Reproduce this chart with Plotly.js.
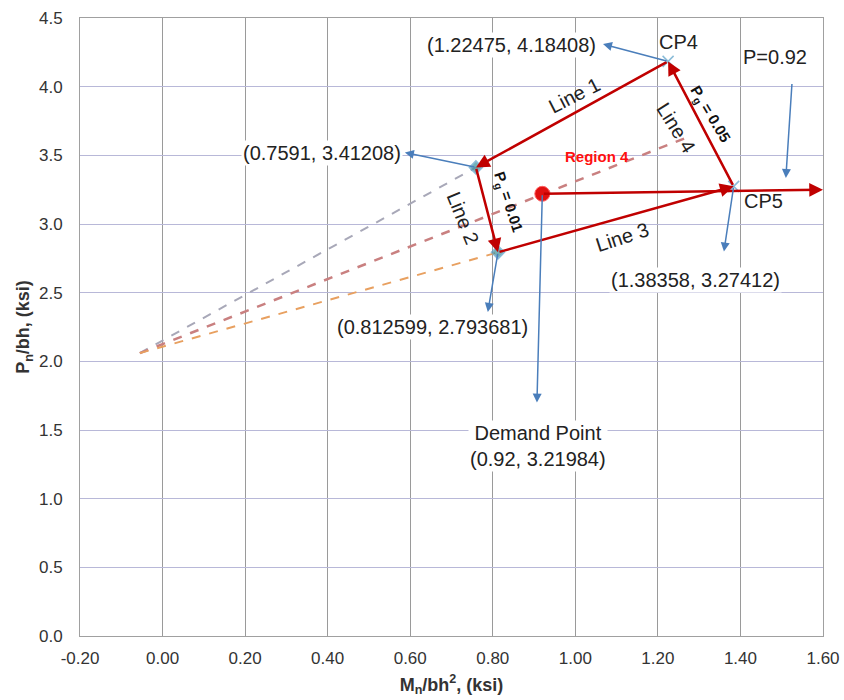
<!DOCTYPE html>
<html>
<head>
<meta charset="utf-8">
<script src="https://cdn.plot.ly/plotly-3.0.1.min.js"></script>
<style>html,body{margin:0;padding:0;background:#fff;}#chart{width:844px;height:700px;}</style>
</head>
<body>
<div id="chart"></div>
<script>
// ---- data ----
const vertexNames = ['CP4', 'V1', 'V2', 'CP5'];
const vertexX = [1.22475, 0.7591, 0.812599, 1.38358];
const vertexY = [4.18408, 3.41208, 2.793681, 3.27412];
const demandX = 0.92;
const demandY = 3.21984;
const focusX = -0.055;
const focusY = 2.06;
// boundary lines (from -> to vertex index)
const lineNames = ['Line 1', 'Line 2', 'Line 3', 'Line 4'];
const lineFrom = [0, 1, 2, 3];
const lineTo = [1, 2, 3, 0];
// demand load ray end
const rayEndX = 1.60;
const rayEndY = 3.25;
// dashed radial line through demand point ends
const demandRayEndX = 1.27;
const demandRayEndY = 3.63;
const xTicks = [-0.2, 0, 0.2, 0.4, 0.6, 0.8, 1.0, 1.2, 1.4, 1.6];
const xTickLabels = ['-0.20', '0.00', '0.20', '0.40', '0.60', '0.80', '1.00', '1.20', '1.40', '1.60'];
const yTicks = [0, 0.5, 1.0, 1.5, 2.0, 2.5, 3.0, 3.5, 4.0, 4.5];
const yTickLabels = ['0.0', '0.5', '1.0', '1.5', '2.0', '2.5', '3.0', '3.5', '4.0', '4.5'];

const FONT = 'Liberation Sans, Arial, sans-serif';
const RED = '#c00000';
const BLUE = '#4a7ebb';
const LS = 20;

const traces = [
  { x: [focusX, vertexX[1]], y: [focusY, vertexY[1]], mode: 'lines',
    line: { color: '#a8a8b8', width: 2, dash: 'dash' }, hoverinfo: 'skip' },
  { x: [focusX, demandRayEndX], y: [focusY, demandRayEndY], mode: 'lines',
    line: { color: '#c98080', width: 2.5, dash: 'dash' }, hoverinfo: 'skip' },
  { x: [focusX, vertexX[2]], y: [focusY, vertexY[2]], mode: 'lines',
    line: { color: '#e8a060', width: 2, dash: 'dash' }, hoverinfo: 'skip' },
  { x: vertexX, y: vertexY, mode: 'markers',
    marker: { symbol: ['x-thin', 'diamond', 'diamond', 'x-thin'], size: [11, 10, 10, 11],
      color: ['#5aa0c8', '#3a8f9a', '#3a8f9a', '#5aa0c8'],
      line: { color: '#5aa0c8', width: 1.5 } }, hoverinfo: 'skip' },
  { x: [demandX], y: [demandY], mode: 'markers',
    marker: { symbol: 'circle', size: 15, color: '#e01010', line: { color: '#ff6060', width: 1 } },
    hoverinfo: 'skip' }
];

const ann = [];
function arrow(x, y, ax, ay, color, width, size) {
  ann.push({ x: x, y: y, ax: ax, ay: ay, xref: 'x', yref: 'y', axref: 'x', ayref: 'y',
    text: '', showarrow: true, arrowhead: 2, arrowsize: size, arrowwidth: width,
    arrowcolor: color, standoff: 0, startstandoff: 0 });
}
function label(text, x, y, opts) {
  ann.push(Object.assign({ x: x, y: y, xref: 'x', yref: 'y', text: text, showarrow: false,
    font: { family: FONT, size: LS, color: '#222' } }, opts || {}));
}
// red boundary arrows
for (let i = 0; i < lineFrom.length; i++) {
  arrow(vertexX[lineTo[i]], vertexY[lineTo[i]], vertexX[lineFrom[i]], vertexY[lineFrom[i]], RED, 2.5, 1.1);
}
// demand ray
arrow(rayEndX, rayEndY, demandX, demandY, RED, 2.5, 1.1);

// blue callouts (head near label, tail at point)
arrow(1.067, 4.31, vertexX[0], vertexY[0], BLUE, 1.5, 1.2);
arrow(0.587, 3.52, vertexX[1], vertexY[1], BLUE, 1.5, 1.2);
arrow(0.788, 2.36, vertexX[2], vertexY[2], BLUE, 1.5, 1.2);
arrow(1.360, 2.80, vertexX[3], vertexY[3], BLUE, 1.5, 1.2);
arrow(0.907, 1.70, demandX, demandY, BLUE, 1.5, 1.2);
arrow(1.510, 3.335, 1.525, 4.03, BLUE, 1.5, 1.2);

const fmt = (x, y) => '(' + x + ', ' + y + ')';
label(fmt(vertexX[0], vertexY[0]), 0.8465, 4.304, { bgcolor: '#fff' });
label(vertexNames[0], 1.249, 4.326);
label('P=' + demandX, 1.484, 4.217, { bgcolor: '#fff' });
label(fmt(vertexX[1], vertexY[1]), 0.386, 3.518, { bgcolor: '#fff' });
label(fmt(vertexX[2], vertexY[2]), 0.655, 2.251, { bgcolor: '#fff' });
label(fmt(vertexX[3], vertexY[3]), 1.290, 2.593, { bgcolor: '#fff' });
label(vertexNames[3], 1.455, 3.168);
label('Demand Point<br>' + fmt(demandX, demandY), 0.909, 1.387, { bgcolor: '#fff' });
label(lineNames[0], 0.999, 3.940, { textangle: -27 });
label(lineNames[1], 0.728, 3.045, { textangle: 68 });
label(lineNames[2], 1.115, 2.906, { textangle: -18 });
label(lineNames[3], 1.245, 3.70, { textangle: 58 });
label('<b>P<sub>g</sub> = 0.05</b>', 1.327, 3.80, { textangle: 59, font: { family: FONT, size: 15, color: '#111' } });
label('<b>P<sub>g</sub> = 0.01</b>', 0.838, 3.16, { textangle: 72, font: { family: FONT, size: 15, color: '#111' } });
label('<b>Region 4</b>', 1.052, 3.489, { font: { family: FONT, size: 15, color: '#ff1010' } });

const layout = {
  width: 844, height: 700,
  margin: { l: 80, r: 21, t: 18, b: 64 },
  paper_bgcolor: '#fff', plot_bgcolor: '#fff',
  showlegend: false,
  font: { family: FONT, size: 17, color: '#333' },
  xaxis: {
    range: [-0.2, 1.6], tickvals: xTicks, ticktext: xTickLabels,
    showgrid: true, gridcolor: '#9a9a9a', gridwidth: 1, zeroline: false,
    showline: true, linecolor: '#a0a0a0', mirror: true,
    ticks: 'outside', ticklen: 7, tickcolor: 'rgba(0,0,0,0)',
    tickfont: { family: FONT, size: 17, color: '#333' },
    title: { text: '<b>M<sub>n</sub>/bh<sup>2</sup>, (ksi)</b>', font: { family: FONT, size: 18, color: '#333' }, standoff: 10 }
  },
  yaxis: {
    range: [0, 4.5], tickvals: yTicks, ticktext: yTickLabels,
    showgrid: true, gridcolor: '#b8b8d8', gridwidth: 1, zeroline: false,
    showline: true, linecolor: '#a0a0a0', mirror: true,
    ticks: 'outside', ticklen: 13, tickcolor: 'rgba(0,0,0,0)',
    tickfont: { family: FONT, size: 17, color: '#333' },
    title: { text: '<b>P<sub>n</sub>/bh, (ksi)</b>', font: { family: FONT, size: 18, color: '#333' }, standoff: 4 }
  },
  annotations: ann
};

Plotly.newPlot('chart', traces, layout, { displayModeBar: false, staticPlot: true });
</script>
</body>
</html>
